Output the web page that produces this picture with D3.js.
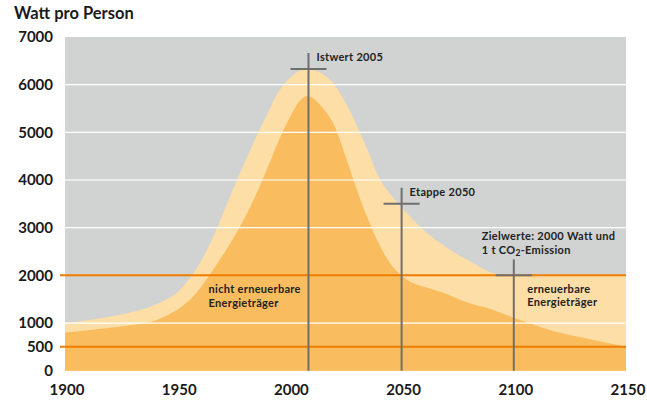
<!DOCTYPE html>
<html>
<head>
<meta charset="utf-8">
<script src="https://cdn.jsdelivr.net/npm/d3@7"></script>
<style>
  body { margin: 0; background: #fff; }
  text { font-family: Lato, "Open Sans", sans-serif; }
</style>
</head>
<body>
<script>
var w = 647;
var h = 403;

// data
var years = [1900, 1910, 1920, 1930, 1940, 1945, 1950, 1955, 1960, 1965, 1970, 1975, 1980, 1985, 1990, 1995,
  2000, 2005, 2008, 2010, 2015, 2020, 2025, 2030, 2035, 2040, 2045, 2050, 2055, 2060, 2065, 2070, 2075,
  2080, 2085, 2090, 2095, 2100, 2110, 2120, 2130, 2140, 2150];
var total = [1000, 1060, 1130, 1230, 1380, 1490, 1640, 1900, 2250, 2700, 3250, 3820, 4360, 4880, 5370, 5840,
  6130, 6300, 6330, 6320, 6220, 6010, 5620, 5150, 4610, 4050, 3700, 3430, 3170, 2940, 2750, 2590, 2440,
  2310, 2170, 2060, 2010, 2000, 2000, 2000, 2000, 2000, 2000];
var nonRenewable = [800, 850, 900, 960, 1050, 1150, 1280, 1460, 1720, 2050, 2400, 2780, 3200, 3680, 4230, 4800,
  5300, 5680, 5760, 5730, 5500, 5150, 4500, 3800, 3180, 2650, 2250, 1990, 1840, 1760, 1690, 1610, 1510,
  1420, 1350, 1290, 1200, 1110, 950, 800, 700, 600, 500];

var yTicks = [0, 500, 1000, 2000, 3000, 4000, 5000, 6000, 7000];
var xTicks = [1900, 1950, 2000, 2050, 2100, 2150];
var whiteLines = [1000, 3000, 4000, 5000, 6000];
var orangeLines = [500, 2000];

var markerYears = [2008.5, 2050, 2100];
var markerValues = [6330, 3500, 2000];
var markerLabels = [["Istwert 2005"], ["Etappe 2050"], ["Zielwerte: 2000 Watt und", "1 t CO|2|-Emission"]];

var areaLabels = [
  { year: 1964, value: 1620, lines: ["nicht erneuerbare", "Energieträger"] },
  { year: 2106, value: 1640, lines: ["erneuerbare", "Energieträger"] }
];

var cGray = "#d1d2d2", cLight = "#fddea6", cDark = "#f9bd5f", cOrange = "#ef7d00", cMark = "#6f6f6f";
var lineGap = 13.4;

var data = years.map(function(d, i) {
  return { year: d, total: total[i], non: nonRenewable[i] };
});

var x = d3.scaleLinear().domain([1900, 2150]).range([65, 626]);
var y = d3.scaleLinear().domain([0, 7000]).range([370.7, 37]);

var svg = d3.select("body").append("svg")
  .attr("width", w)
  .attr("height", h);

svg.append("rect")
  .attr("x", x(1900))
  .attr("y", y(7000))
  .attr("width", x(2150) - x(1900))
  .attr("height", y(0) - y(7000))
  .attr("fill", cGray);

var areaTotal = d3.area()
  .x(function(d) { return x(d.year); })
  .y0(y(0))
  .y1(function(d) { return y(d.total); })
  .curve(d3.curveMonotoneX);

var areaNon = d3.area()
  .x(function(d) { return x(d.year); })
  .y0(y(0))
  .y1(function(d) { return y(d.non); })
  .curve(d3.curveMonotoneX);

svg.append("path").datum(data).attr("d", areaTotal).attr("fill", cLight);
svg.append("path").datum(data).attr("d", areaNon).attr("fill", cDark);

// grid lines on top of the areas
svg.selectAll("line.white")
  .data(whiteLines)
  .enter()
  .append("line")
  .attr("class", "white")
  .attr("x1", x(1900))
  .attr("x2", x(2150))
  .attr("y1", function(d) { return y(d); })
  .attr("y2", function(d) { return y(d); })
  .attr("stroke", "#fff")
  .attr("stroke-width", 1.2);

svg.selectAll("line.orange")
  .data(orangeLines)
  .enter()
  .append("line")
  .attr("class", "orange")
  .attr("x1", x(1900) - 5)
  .attr("x2", x(2150))
  .attr("y1", function(d) { return y(d); })
  .attr("y2", function(d) { return y(d); })
  .attr("stroke", cOrange)
  .attr("stroke-width", 2);

// axes labels
svg.selectAll("text.ytick")
  .data(yTicks)
  .enter()
  .append("text")
  .attr("class", "ytick")
  .attr("x", 53)
  .attr("y", function(d) { return y(d); })
  .attr("dy", "0.36em")
  .attr("text-anchor", "end")
  .attr("font-size", "15px")
  .attr("font-weight", "bold")
  .attr("fill", "#1a1a1a")
  .text(function(d) { return d; });

svg.selectAll("text.xtick")
  .data(xTicks)
  .enter()
  .append("text")
  .attr("class", "xtick")
  .attr("x", function(d) { return x(d) + 2; })
  .attr("y", 395)
  .attr("text-anchor", "middle")
  .attr("font-size", "15px")
  .attr("font-weight", "bold")
  .attr("fill", "#1a1a1a")
  .text(function(d) { return d; });

svg.append("text")
  .attr("x", 14)
  .attr("y", 19)
  .attr("font-size", "16.5px")
  .attr("font-weight", "bold")
  .attr("fill", "#1a1a1a")
  .text("Watt pro Person");

// markers
var markers = svg.selectAll("g.marker")
  .data(markerYears)
  .enter()
  .append("g")
  .attr("class", "marker");

markers.append("line")
  .attr("x1", function(d) { return x(d); })
  .attr("x2", function(d) { return x(d); })
  .attr("y1", function(d, i) { return y(markerValues[i]) - 16; })
  .attr("y2", y(0))
  .attr("stroke", cMark)
  .attr("stroke-width", 2);

markers.append("line")
  .attr("x1", function(d) { return x(d) - 18; })
  .attr("x2", function(d) { return x(d) + 18; })
  .attr("y1", function(d, i) { return y(markerValues[i]); })
  .attr("y2", function(d, i) { return y(markerValues[i]); })
  .attr("stroke", cMark)
  .attr("stroke-width", 2);

function label(sel) {
  return sel.attr("font-size", "11px")
    .attr("font-weight", "bold")
    .attr("letter-spacing", "0.3px")
    .attr("fill", "#222");
}

markers.each(function(d, i) {
  var lines = markerLabels[i];
  var top = y(markerValues[i]) - 16;
  var g = d3.select(this);
  lines.forEach(function(s, j) {
    var t = label(g.append("text"));
    if (lines.length == 1) {
      t.attr("x", x(d) + 8).attr("y", top + 8);
    } else {
      t.attr("x", x(d) - 32).attr("y", top - 19 + j * lineGap);
    }
    s.split("|").forEach(function(part, k) {
      var sp = t.append("tspan").text(part);
      if (k == 1) sp.attr("font-size", "8.5px").attr("dy", 2.5);
      if (k == 2) sp.attr("dy", -2.5);
    });
  });
});

// area labels
areaLabels.forEach(function(a) {
  a.lines.forEach(function(s, j) {
    label(svg.append("text"))
      .attr("x", x(a.year))
      .attr("y", y(a.value) + j * lineGap)
      .text(s);
  });
});
</script>
</body>
</html>
